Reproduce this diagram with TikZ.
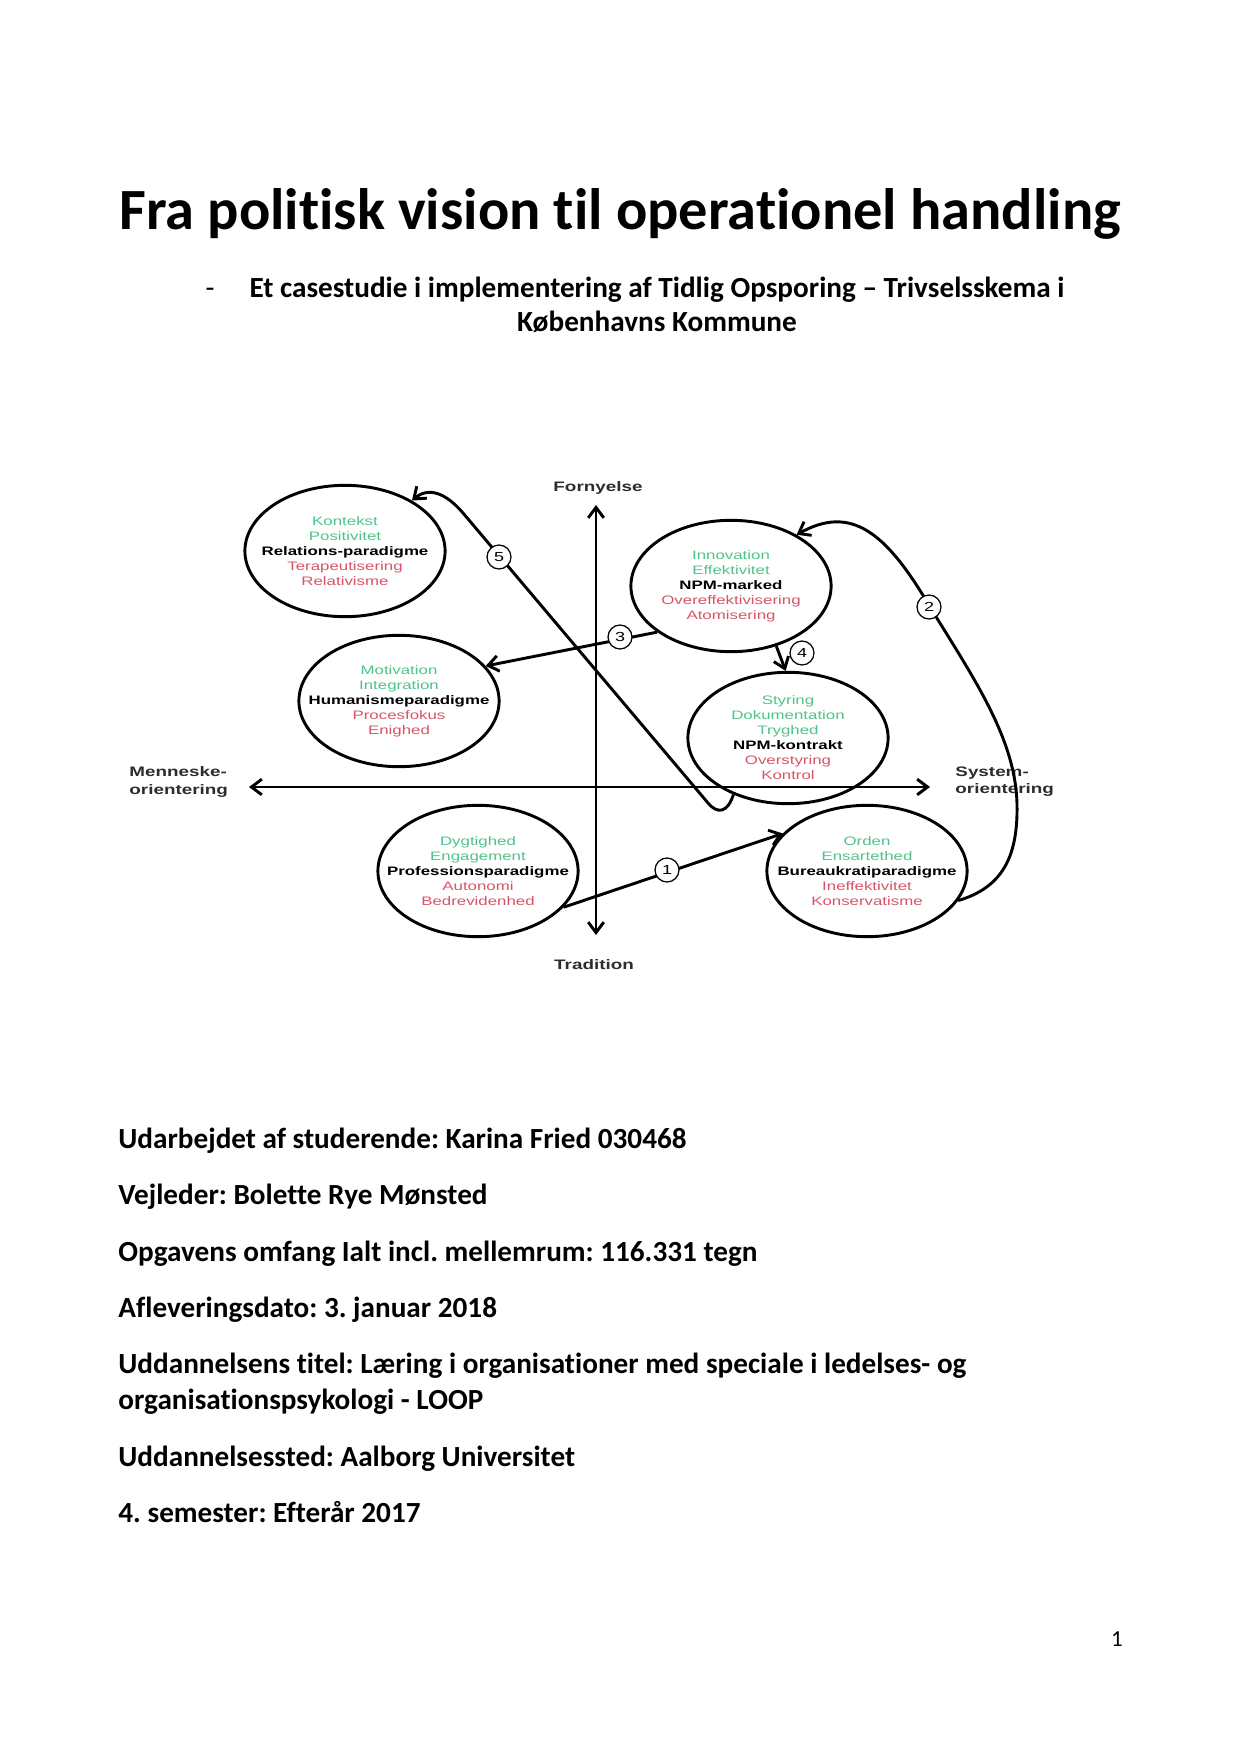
\documentclass[tikz,border=0pt]{standalone}
\usepackage{fontspec}
\setmainfont[Ligatures=NoCommon]{Carlito}
\newfontfamily\diagfont[FakeStretch=1.37]{Liberation Sans}
\usetikzlibrary{arrows.meta,shapes.geometric}
\frenchspacing
\definecolor{paragreen}{RGB}{80,195,140}
\definecolor{parared}{RGB}{215,85,105}
\definecolor{labelgray}{RGB}{45,45,45}
\newcommand{\gtext}[1]{\textcolor{paragreen}{#1}}
\newcommand{\rtext}[1]{\textcolor{parared}{#1}}
\newcommand{\ktext}[1]{\textbf{#1}}
\tikzset{
  paradigm/.style={draw,ellipse,line width=1.4pt,minimum width=96pt,minimum height=63pt,inner sep=0pt},
  ptext/.style={font=\diagfont\fontsize{5.9}{7.2}\selectfont,align=center,inner sep=0pt},
  arrow/.style={-{Straight Barb[length=5pt,width=7.5pt]},line width=1.4pt},
  axis/.style={{Straight Barb[length=5pt,width=7.5pt]}-{Straight Barb[length=5pt,width=7.5pt]},line width=1.4pt},
  axlabel/.style={font=\diagfont\bfseries\fontsize{6.6}{8.2}\selectfont,text=labelgray,inner sep=0pt},
  num/.style={draw,circle,line width=0.6pt,fill=white,minimum size=11.5pt,inner sep=0pt,font=\diagfont\fontsize{6.3}{7}\selectfont},
  heading/.style={font=\bfseries\fontsize{28}{33}\selectfont,inner sep=0pt,anchor=base},
  sub/.style={font=\bfseries\fontsize{14}{17}\selectfont,inner sep=0pt,anchor=base},
  info/.style={font=\bfseries\fontsize{14}{17}\selectfont,inner sep=0pt,anchor=base west}
}

\begin{document}
\begin{tikzpicture}[x=0.4795pt,y=-0.4795pt]
\useasboundingbox[fill=white] (0,0) rectangle (1241,1754);
% title block
\node[heading] (title) at (620,230) {Fra politisk vision til operationel handling};
\node[sub,font=\fontsize{14}{17}\selectfont] (dash) at (210,298) {-};
\node[sub] (sub1) at (657,298) {Et casestudie i implementering af Tidlig Opsporing – Trivselsskema i};
\node[sub] (sub2) at (657,332) {Københavns Kommune};

% axes
\coordinate (top) at (596,505);
\coordinate (bot) at (596,935);
\coordinate (lft) at (249,787);
\coordinate (rgt) at (930,787);
\draw[axis] (bot) -- (top);
\draw[axis] (lft) -- (rgt);
\node[axlabel] (forny) at (598,488) {Fornyelse};
\node[axlabel] (trad) at (594,965) {Tradition};
\node[axlabel,anchor=west,align=left] (menn) at (129,782) {Menneske-\\orientering};
\node[axlabel,anchor=west,align=left] (syst) at (955,782) {System-\\orientering};

% paradigms
\node[paradigm,label={[ptext]center:{\gtext{Kontekst}\\\gtext{Positivitet}\\\ktext{Relations-paradigme}\\\rtext{Terapeutisering}\\\rtext{Relativisme}}}] (rel) at (345,551) {};
\node[paradigm,label={[ptext]center:{\gtext{Motivation}\\\gtext{Integration}\\\ktext{Humanismeparadigme}\\\rtext{Procesfokus}\\\rtext{Enighed}}}] (hum) at (399,701) {};
\node[paradigm,label={[ptext]center:{\gtext{Dygtighed}\\\gtext{Engagement}\\\ktext{Professionsparadigme}\\\rtext{Autonomi}\\\rtext{Bedrevidenhed}}}] (pro) at (478,871) {};
\node[paradigm,label={[ptext]center:{\gtext{Innovation}\\\gtext{Effektivitet}\\\ktext{NPM-marked}\\\rtext{Overeffektivisering}\\\rtext{Atomisering}}}] (mar) at (731,586) {};
\node[paradigm,label={[ptext]center:{\gtext{Styring}\\\gtext{Dokumentation}\\\gtext{Tryghed}\\\ktext{NPM-kontrakt}\\\rtext{Overstyring}\\\rtext{Kontrol}}}] (kon) at (788,738) {};
\node[paradigm,label={[ptext]center:{\gtext{Orden}\\\gtext{Ensartethed}\\\ktext{Bureaukratiparadigme}\\\rtext{Ineffektivitet}\\\rtext{Konservatisme}}}] (bur) at (867,871) {};

% transitions
\draw[arrow] (pro.-23) -- (bur.156);
\draw[arrow] (bur.-18) .. controls (1000,888) and (1018,860) .. (1017,805)
  .. controls (1016,740) and (975,680) .. (930,607)
  .. controls (885,530) and (850,505) .. (mar.38);
\draw[arrow] (mar.212) -- (hum.22);
\draw[arrow] (mar.-53) -- (kon.92);
\draw[arrow] (kon.-134) .. controls (728,812) and (718,815) .. (708,803)
  -- (463,513) .. controls (445,492) and (428,487) .. (rel.37);
\node[num] (n1) at (667,870) {1};
\node[num] (n2) at (929,607) {2};
\node[num] (n3) at (620,637) {3};
\node[num] (n4) at (802,653) {4};
\node[num] (n5) at (499,557) {5};

% info lines
\node[info] (udarb) at (118,1148) {Udarbejdet af studerende: Karina Fried 030468};
\node[info] (vejl) at (118,1204) {Vejleder: Bolette Rye Mønsted};
\node[info] (omfang) at (118,1261) {Opgavens omfang Ialt incl. mellemrum: 116.331 tegn};
\node[info] (aflev) at (118,1317) {Afleveringsdato: 3. januar 2018};
\node[info] (titel1) at (118,1373) {Uddannelsens titel: Læring i organisationer med speciale i ledelses- og};
\node[info] (titel2) at (118,1409) {organisationspsykologi - LOOP};
\node[info] (sted) at (118,1466) {Uddannelsessted: Aalborg Universitet};
\node[info] (sem) at (118,1522) {4. semester: Efterår 2017};
\node[font=\fontsize{11}{13}\selectfont,inner sep=0pt] (page) at (1117,1639) {1};
\end{tikzpicture}
\end{document}
